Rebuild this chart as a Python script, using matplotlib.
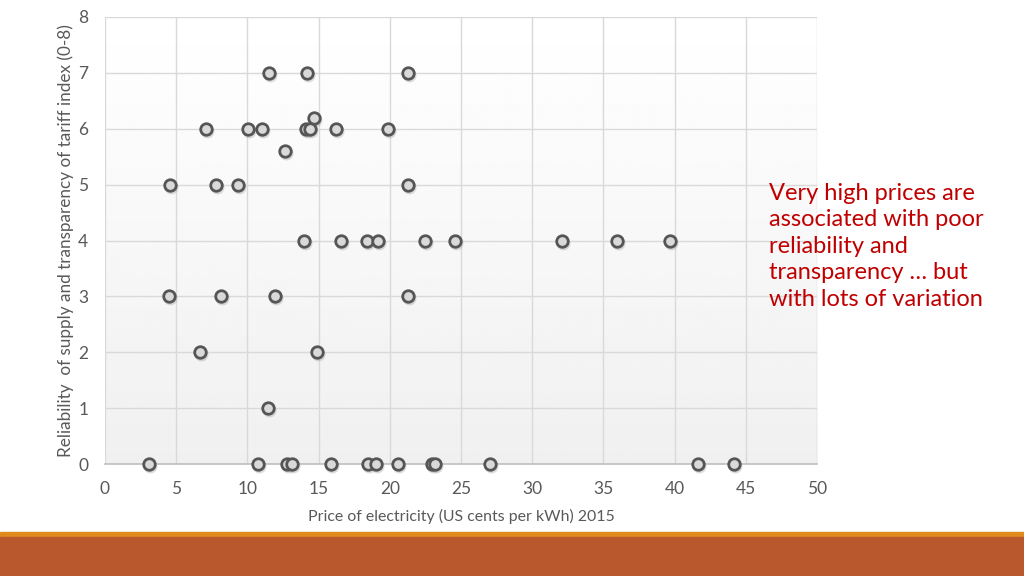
import numpy as np
import matplotlib.pyplot as plt
from matplotlib import transforms

# prezzo dell'elettricità (US cents per kWh) e indice di affidabilità (0-8)
prezzo = [11.55, 14.2, 21.28,
          14.68,
          7.12, 10.02, 11.05, 14.12, 14.38, 16.22, 19.9,
          12.64,
          4.55, 7.83, 9.35, 21.25,
          13.95, 16.55, 18.42, 19.2, 22.5, 24.6, 32.07, 35.95, 39.68,
          4.48, 8.15, 11.95, 21.28,
          6.65, 14.9,
          11.42,
          3.12, 10.75, 12.77, 13.13, 15.86, 18.5, 19.04, 20.57, 22.95, 23.15, 27.0, 41.65, 44.15]
indice = [7, 7, 7,
          6.2,
          6, 6, 6, 6, 6, 6, 6,
          5.6,
          5, 5, 5, 5,
          4, 4, 4, 4, 4, 4, 4, 4, 4,
          3, 3, 3, 3,
          2, 2,
          1,
          0, 0, 0, 0, 0, 0, 0, 0, 0, 0, 0, 0, 0]

xticks = np.arange(0, 55, 5)
yticks = np.arange(0, 9, 1)

plt.rcParams['font.family'] = ['Lato', 'DejaVu Sans']

fig = plt.figure(figsize=(10.24, 5.76), dpi=100)
fig.patch.set_facecolor('white')
ax = fig.add_axes([0.1025, 0.1944, 0.6955, 0.7761])

# sfondo sfumato dell'area del grafico
grad = np.linspace(1.0, 0.94, 256).reshape(-1, 1)
ax.imshow(grad, cmap='gray', vmin=0, vmax=1, aspect='auto', extent=[0, 1, 0, 1],
          transform=ax.transAxes, zorder=0)

ax.set_xlim(0, 50)
ax.set_ylim(0, 8)
ax.set_xticks(xticks)
ax.set_yticks(yticks)
ax.grid(True, color='#d9d9d9', lw=1, zorder=1)
ax.set_axisbelow(True)
for s in ['top', 'right', 'left']:
    ax.spines[s].set_visible(False)
ax.spines['bottom'].set_color('#bfbfbf')
ax.spines['bottom'].set_linewidth(1.2)
ax.tick_params(axis='x', length=0, labelsize=12.5, labelcolor='#595959', pad=12)
ax.tick_params(axis='y', length=0, labelsize=12.5, labelcolor='#595959', pad=12)

# ombra dei marker
ombra = transforms.offset_copy(ax.transData, fig=fig, x=1.0, y=-2.0, units='dots')
ax.plot(prezzo, indice, 'o', ms=10, mfc='#9a9a9a', mec='none', alpha=0.35,
        transform=ombra, clip_on=False, zorder=2)
ax.plot(prezzo, indice, 'o', ms=8.3, mfc='#d9d9d9', mec='#555555', mew=2.0,
        clip_on=False, zorder=3)

ax.set_xlabel('Price of electricity (US cents per kWh) 2015', fontsize=11.4,
              color='#595959', labelpad=9)
ax.set_ylabel('Reliability  of supply and transparency of tariff index (0-8)', fontsize=12.3,
              color='#595959', labelpad=3)

fig.text(0.751, 0.683, 'Very high prices are\nassociated with poor\nreliability and\ntransparency … but\nwith lots of variation',
         color='#c00000', fontsize=17, va='top', ha='left', linespacing=1.33)

# bande decorative in basso
fig.patches.append(plt.Rectangle((0, 0.0677), 1, 0.0087, transform=fig.transFigure,
                                 color='#e08a1e', zorder=0))
fig.patches.append(plt.Rectangle((0, 0), 1, 0.0677, transform=fig.transFigure,
                                 color='#b9582c', zorder=0))

plt.savefig('out.png', dpi=100)
